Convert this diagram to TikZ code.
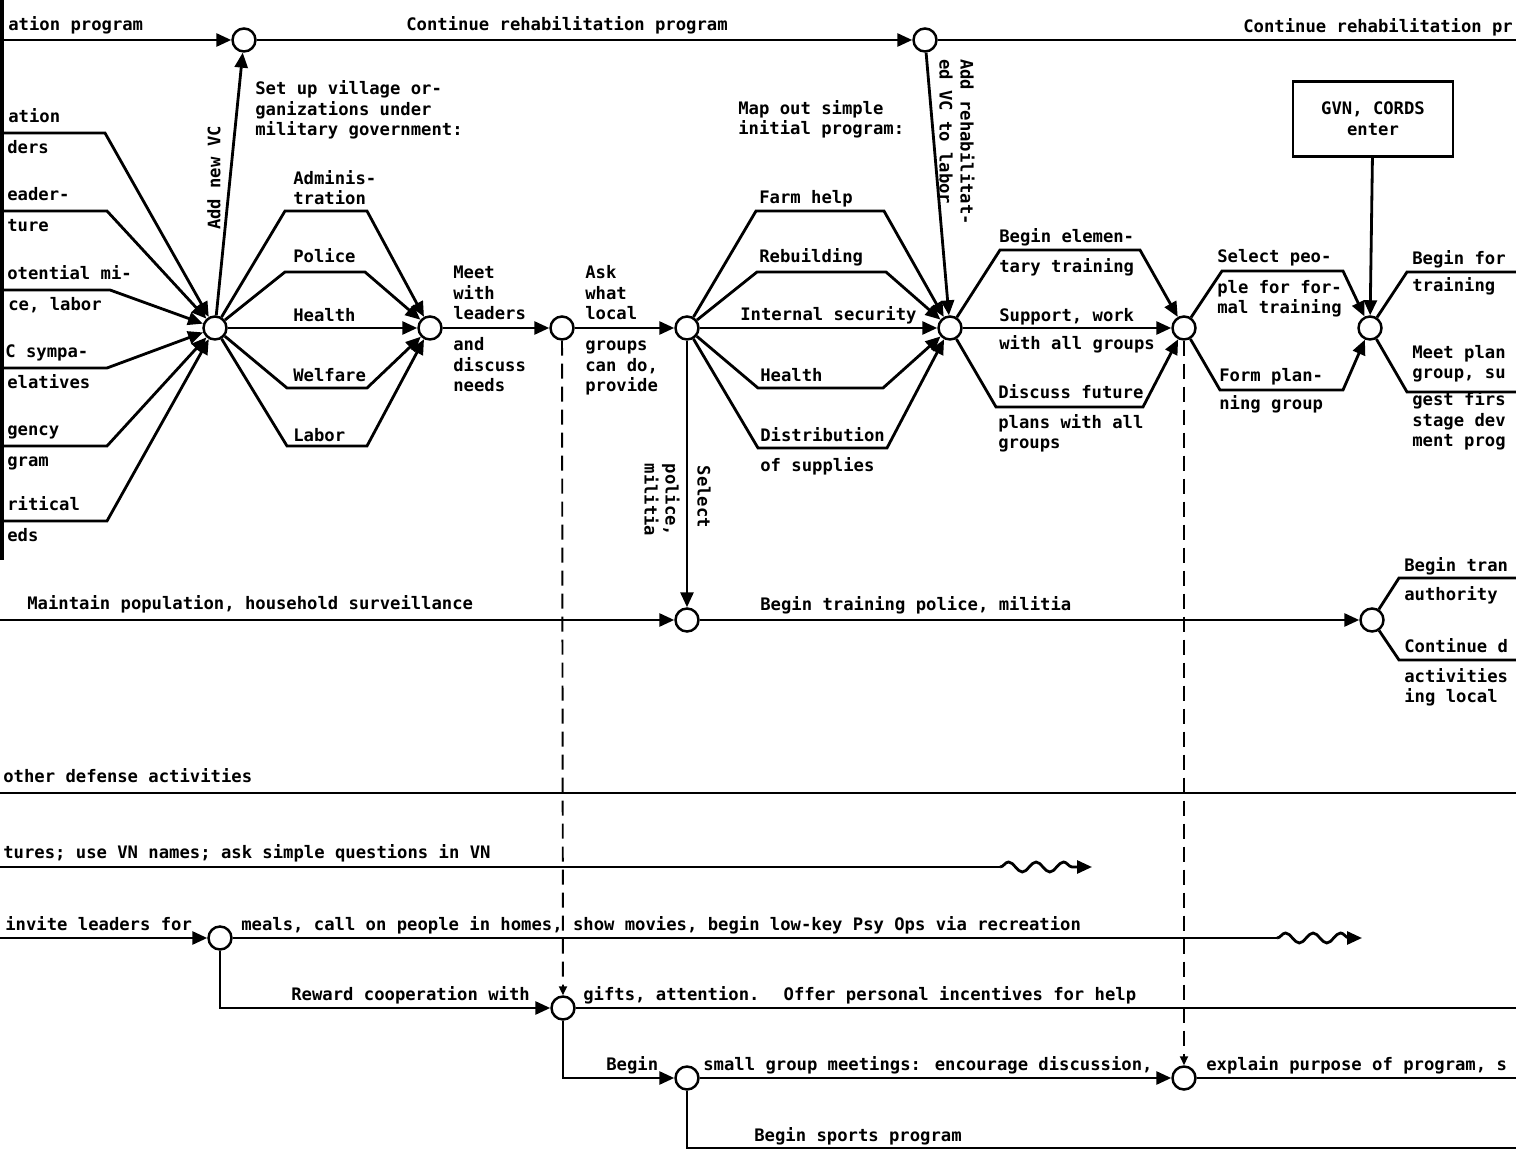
\documentclass[tikz,border=0pt]{standalone}
\usepackage{fontspec}
\newfontfamily\typefont{DejaVu Sans Mono}
\newcommand\typewr{\typefont\bfseries\fontsize{9.8pt}{11.9pt}\selectfont}
\usetikzlibrary{arrows.meta,decorations.pathmorphing}

\begin{document}
\begin{tikzpicture}[x=0.02cm, y=-0.02cm,
  ev/.style={circle, draw, line width=1.4pt, fill=white, minimum size=4.6mm,
    inner sep=0pt},
  entry/.style={draw, line width=1.2pt, minimum width=32mm, minimum height=15mm,
    align=center, font=\typewr},
  lbl/.style={anchor=base west, inner sep=0pt, align=left, font=\typewr},
  vlbl/.style={inner sep=0pt, align=left, font=\typewr},
  ln/.style={line width=1.6pt},
  e/.style={ln, -{Triangle[length=3mm, width=2.6mm]}},
  dsh/.style={line width=1.1pt, dash pattern=on 3mm off 1.6mm,
    -{Triangle[length=1.8mm, width=1.6mm]}},
  wave/.style={e, decorate, decoration={snake, segment length=5.5mm,
    amplitude=1mm, post length=2.5mm}},
]
\useasboundingbox (0,0) rectangle (1516,1155);
\clip (0,0) rectangle (1516,1155);
% page edge
\draw[line width=2.5pt] (2,0) -- (2,560);
% events
\node[ev] (a1) at (244,40) {};
\node[ev] (a2) at (925,40) {};
\node[ev] (h1) at (215,328) {};
\node[ev] (h2) at (430,328) {};
\node[ev] (h3) at (562,328) {};
\node[ev] (h4) at (687,328) {};
\node[ev] (h5) at (950,328) {};
\node[ev] (h6) at (1184,328) {};
\node[ev] (h7) at (1370,328) {};
\node[ev] (p1) at (687,620) {};
\node[ev] (p2) at (1372,620) {};
\node[ev] (m1) at (220,938) {};
\node[ev] (r1) at (563,1008) {};
\node[ev] (s1) at (687,1078) {};
\node[ev] (s2) at (1184,1078) {};
\node[entry] (gvn) at (1373,119) {GVN, CORDS\\enter};
% free ends at the page edges
\coordinate (t0) at (0,40);    \coordinate (t1) at (1516,40);
\coordinate (l1) at (0,133);   \coordinate (l2) at (0,211);
\coordinate (l3) at (0,290);   \coordinate (l4) at (0,368);
\coordinate (l5) at (0,446);   \coordinate (l6) at (0,521);
\coordinate (q1) at (1516,272); \coordinate (q2) at (1516,392);
\coordinate (u0) at (0,620);
\coordinate (u1) at (1516,578); \coordinate (u2) at (1516,660);
\coordinate (d0) at (0,793);   \coordinate (d1) at (1516,793);
\coordinate (v0) at (0,867);   \coordinate (v1) at (1000,867);
\coordinate (v2) at (1092,867);
\coordinate (i0) at (0,938);   \coordinate (i1) at (1277,938);
\coordinate (i2) at (1362,938);
\coordinate (g1) at (1516,1008);
\coordinate (x1) at (1516,1078);
\coordinate (b1) at (1516,1148);
% rehabilitation line
\draw[e] (t0) -- (a1);
\draw[e] (a1) -- (a2);
\draw[ln] (a2) -- (t1);
% inputs to the first event
\draw[e] (l1) -- (105,133) -- (h1);
\draw[e] (l2) -- (107,211) -- (h1);
\draw[e] (l3) -- (110,290) -- (h1);
\draw[e] (l4) -- (107,368) -- (h1);
\draw[e] (l5) -- (107,446) -- (h1);
\draw[e] (l6) -- (107,521) -- (h1);
\draw[e] (h1) -- (a1);
% village organizations
\draw[e] (h1) -- (285,211) -- (367,211) -- (h2);
\draw[e] (h1) -- (285,272) -- (365,272) -- (h2);
\draw[e] (h1) -- (h2);
\draw[e] (h1) -- (287,388) -- (367,388) -- (h2);
\draw[e] (h1) -- (287,446) -- (367,446) -- (h2);
\draw[e] (h2) -- (h3);
\draw[e] (h3) -- (h4);
% initial program
\draw[e] (h4) -- (756,211) -- (884,211) -- (h5);
\draw[e] (h4) -- (757,272) -- (886,272) -- (h5);
\draw[e] (h4) -- (h5);
\draw[e] (h4) -- (758,388) -- (883,388) -- (h5);
\draw[e] (h4) -- (758,448) -- (887,448) -- (h5);
\draw[e] (a2) -- (h5);
% training and planning
\draw[e] (h5) -- (1000,250) -- (1140,250) -- (h6);
\draw[e] (h5) -- (h6);
\draw[e] (h5) -- (996,407) -- (1143,407) -- (h6);
\draw[e] (h6) -- (1222,271) -- (1343,271) -- (h7);
\draw[e] (h6) -- (1220,390) -- (1343,390) -- (h7);
\draw[e] (gvn) -- (h7);
\draw[ln] (h7) -- (1407,272) -- (q1);
\draw[ln] (h7) -- (1407,392) -- (q2);
% police, militia
\draw[e] (u0) -- (p1);
\draw[e] (h4) -- (p1);
\draw[e] (p1) -- (p2);
\draw[ln] (p2) -- (1399,578) -- (u1);
\draw[ln] (p2) -- (1399,660) -- (u2);
% continuing activities
\draw[ln] (d0) -- (d1);
\draw[ln] (v0) -- (v1);
\draw[wave] (v1) -- (v2);
\draw[e] (i0) -- (m1);
\draw[ln] (m1) -- (i1);
\draw[wave] (i1) -- (i2);
\draw[e] (m1) -- (220,1008) -- (r1);
\draw[ln] (r1) -- (g1);
\draw[e] (r1) -- (563,1078) -- (s1);
\draw[e] (s1) -- (s2);
\draw[ln] (s2) -- (x1);
\draw[ln] (s1) -- (687,1148) -- (b1);
% dependencies
\draw[dsh] (h3) -- (r1);
\draw[dsh] (h6) -- (s2);
% labels (multi-line ones sit on their last line)
\node[lbl] (tp0) at (8,31) {ation program};
\node[lbl] (tp1) at (406,31) {Continue rehabilitation program};
\node[lbl] (tp2) at (1243,33) {Continue rehabilitation pr};
\node[lbl] (la1) at (8,123) {ation};
\node[lbl] (lb1) at (7,154) {ders};
\node[lbl] (la2) at (7,201) {eader-};
\node[lbl] (lb2) at (7,232) {ture};
\node[lbl] (la3) at (7,280) {otential mi-};
\node[lbl] (lb3) at (8,311) {ce, labor};
\node[lbl] (la4) at (5,358) {C sympa-};
\node[lbl] (lb4) at (7,389) {elatives};
\node[lbl] (la5) at (7,436) {gency};
\node[lbl] (lb5) at (7,467) {gram};
\node[lbl] (la6) at (7,511) {ritical};
\node[lbl] (lb6) at (7,542) {eds};
\node[vlbl, rotate=90] (nvc) at (214,178) {Add new VC};
\node[lbl] (setup) at (255,136) {Set up village or-\\ganizations under\\military government:};
\node[lbl] (adm) at (293,205) {Adminis-\\tration};
\node[lbl] (pol) at (293,263) {Police};
\node[lbl] (hl1) at (293,322) {Health};
\node[lbl] (wel) at (293,382) {Welfare};
\node[lbl] (lab) at (293,442) {Labor};
\node[lbl] (meet) at (453,320) {Meet\\with\\leaders};
\node[lbl] (disc) at (453,392) {and\\discuss\\needs};
\node[lbl] (ask) at (585,320) {Ask\\what\\local};
\node[lbl] (grp) at (585,392) {groups\\can do,\\provide};
\node[lbl] (map) at (738,135) {Map out simple\\initial program:};
\node[lbl] (farm) at (759,204) {Farm help};
\node[lbl] (reb) at (759,263) {Rebuilding};
\node[lbl] (sec) at (740,321) {Internal security};
\node[lbl] (hl2) at (760,382) {Health};
\node[lbl] (dist) at (760,442) {Distribution};
\node[lbl] (supp) at (760,472) {of supplies};
\node[vlbl, rotate=-90] (sel) at (704,497) {Select};
\node[vlbl, rotate=-90] (pm) at (662,500) {police,\\militia};
\node[vlbl, rotate=-90] (addr) at (957,142) {Add rehabilitat-\\ed VC to labor};
\node[lbl] (elem) at (999,243) {Begin elemen-};
\node[lbl] (tary) at (999,273) {tary training};
\node[lbl] (supw) at (999,322) {Support, work};
\node[lbl] (wall) at (999,350) {with all groups};
\node[lbl] (fut) at (998,399) {Discuss future};
\node[lbl] (plans) at (998,449) {plans with all\\groups};
\node[lbl] (spe) at (1217,263) {Select peo-};
\node[lbl] (ple) at (1217,314) {ple for for-\\mal training};
\node[lbl] (fpl) at (1219,382) {Form plan-};
\node[lbl] (ngr) at (1219,410) {ning group};
\node[lbl] (bfo) at (1412,265) {Begin for};
\node[lbl] (trn) at (1412,292) {training};
\node[lbl] (mpl) at (1412,379) {Meet plan\\group, su};
\node[lbl] (gst) at (1412,447) {gest firs\\stage dev\\ment prog};
\node[lbl] (mnt) at (27,610) {Maintain population, household surveillance};
\node[lbl] (btp) at (760,611) {Begin training police, militia};
\node[lbl] (btr) at (1404,572) {Begin tran};
\node[lbl] (aut) at (1404,601) {authority};
\node[lbl] (cnd) at (1404,653) {Continue d};
\node[lbl] (act) at (1404,703) {activities\\ing local};
\node[lbl] (odf) at (3,783) {other defense activities};
\node[lbl] (tur) at (3,858) {tures; use VN names; ask simple questions in VN};
\node[lbl] (inv) at (5,930) {invite leaders for};
\node[lbl] (mea) at (241,930) {meals, call on people in homes, show movies, begin low-key Psy Ops via recreation};
\node[lbl] (rew) at (291,1000) {Reward cooperation with};
\node[lbl] (gif) at (583,1000) {gifts, attention.~ Offer personal incentives for help};
\node[lbl] (bgn) at (606,1070) {Begin};
\node[lbl] (sgm) at (703,1070) {small group meetings: encourage discussion,};
\node[lbl] (exp) at (1206,1070) {explain purpose of program, s};
\node[lbl] (spo) at (754,1141) {Begin sports program};
\end{tikzpicture}
\end{document}
